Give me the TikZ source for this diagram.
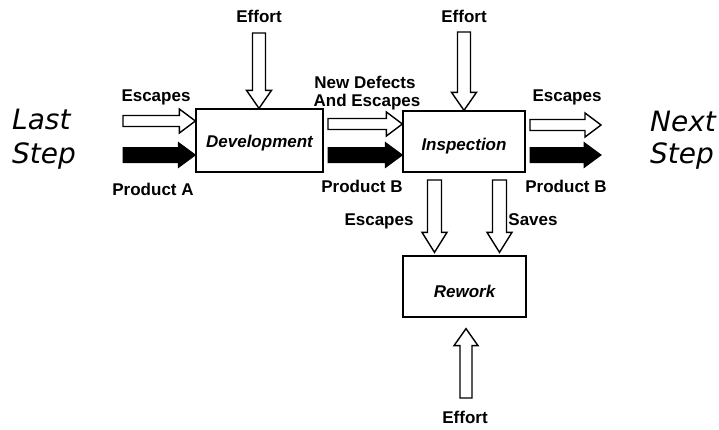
\documentclass[tikz,border=0pt]{standalone}
\usepackage{fontspec}
\setmainfont{Liberation Sans}
\newfontfamily\stepfont{DejaVu Sans}
\usetikzlibrary{calc}

\tikzset{
  procbox/.style={draw, line width=1.3pt, rectangle, inner sep=0pt, text depth=0pt,
    font=\fontsize{17}{20}\selectfont\bfseries\itshape},
  lbl/.style={anchor=base, inner sep=0pt, font=\fontsize{17}{20}\selectfont\bfseries},
  steplbl/.style={anchor=base west, inner sep=0pt, font=\fontsize{28}{32}\selectfont\stepfont\itshape},
  hollowarrow/.style={draw=black, fill=white, line width=1.4pt, line join=miter},
  fullarrow/.style={draw=black, fill=black, line width=1pt, line join=miter},
}

% block arrow: style, tail, tip, shaft half-width, head half-width, head length
\newcommand\blockarrow[6]{%
  \coordinate (ba-t) at (#2);
  \coordinate (ba-p) at (#3);
  \coordinate (ba-h) at ($(ba-p)!#6!(ba-t)$);
  \draw[#1] ($(ba-t)!#4!90:(ba-p)$) -- ($(ba-h)!#4!90:(ba-p)$)
    -- ($(ba-h)!#5!90:(ba-p)$) -- (ba-p) -- ($(ba-h)!#5!-90:(ba-p)$)
    -- ($(ba-h)!#4!-90:(ba-p)$) -- ($(ba-t)!#4!-90:(ba-p)$) -- cycle;
}

\begin{document}
\begin{tikzpicture}[x=1pt, y=-1pt]
\useasboundingbox (0,0) rectangle (719,429);

% process boxes
\node[procbox, minimum width=127pt, minimum height=63pt, text height=13pt] (dev) at (259.5,140.5) {Development};
\node[procbox, minimum width=122pt, minimum height=61pt, text height=17pt] (insp) at (464,141.5) {Inspection};
\node[procbox, minimum width=123pt, minimum height=61pt, text height=21pt] (rework) at (464.5,286.5) {Rework};

% step labels
\node[steplbl] (last) at (12,129) {Last};
\node[steplbl] (laststep) at (12,163) {Step};
\node[steplbl] (next) at (650,131) {Next};
\node[steplbl] (nextstep) at (650,163) {Step};

% flow labels
\node[lbl] (effTop1) at (259,22) {Effort};
\node[lbl] (effTop2) at (464,22) {Effort};
\node[lbl] (escL) at (156,101) {Escapes};
\node[lbl] (newdef) at (365,88) {New Defects};
\node[lbl] (andesc) at (367,106) {And Escapes};
\node[lbl] (escR) at (567,101) {Escapes};
\node[lbl] (prodA) at (153,195) {Product A};
\node[lbl] (prodBm) at (362,192) {Product B};
\node[lbl] (prodBr) at (566,192) {Product B};
\node[lbl] (escD) at (379,225) {Escapes};
\node[lbl] (saves) at (533,225) {Saves};
\node[lbl] (effBot) at (465,423) {Effort};

% arrow tails and free ends
\coordinate (escIn) at (123,121);
\coordinate (prodIn) at (123,155);
\coordinate (effDev) at (259,33);
\coordinate (effInsp) at (464,32);
\coordinate (ndOut) at (328,124);
\coordinate (pbOut) at (328,155);
\coordinate (escOut) at (530,125);
\coordinate (escEnd) at (601,125);
\coordinate (pbOut2) at (530,155);
\coordinate (pbEnd) at (601,155);
\coordinate (escDn) at (434.5,180);
\coordinate (savDn) at (499.5,180);
\coordinate (effUp) at (466,398);
\coordinate (escDnTip) at ($(escDn |- rework.north)+(0,-3)$);
\coordinate (savDnTip) at ($(savDn |- rework.north)+(0,-3)$);
\coordinate (effUpTip) at ($(effUp |- rework.south)+(0,11)$);

% into development
\blockarrow{hollowarrow}{escIn}{dev.west |- escIn}{5.5pt}{12pt}{16pt}
\blockarrow{fullarrow}{prodIn}{dev.west |- prodIn}{7.5pt}{12.5pt}{17pt}
\blockarrow{hollowarrow}{effDev}{effDev |- dev.north}{6.5pt}{12.5pt}{18pt}

% development to inspection
\blockarrow{hollowarrow}{ndOut}{insp.west |- ndOut}{5.5pt}{12pt}{16pt}
\blockarrow{fullarrow}{pbOut}{insp.west |- pbOut}{7.5pt}{12.5pt}{17pt}
\blockarrow{hollowarrow}{effInsp}{effInsp |- insp.north}{6.5pt}{12.5pt}{18pt}

% out of inspection
\blockarrow{hollowarrow}{escOut}{escEnd}{5.5pt}{12pt}{16pt}
\blockarrow{fullarrow}{pbOut2}{pbEnd}{7.5pt}{12.5pt}{17pt}
\blockarrow{hollowarrow}{escDn}{escDnTip}{7pt}{12.5pt}{20pt}
\blockarrow{hollowarrow}{savDn}{savDnTip}{7pt}{12.5pt}{20pt}

% effort into rework
\blockarrow{hollowarrow}{effUp}{effUpTip}{6pt}{12pt}{17pt}
\end{tikzpicture}
\end{document}
